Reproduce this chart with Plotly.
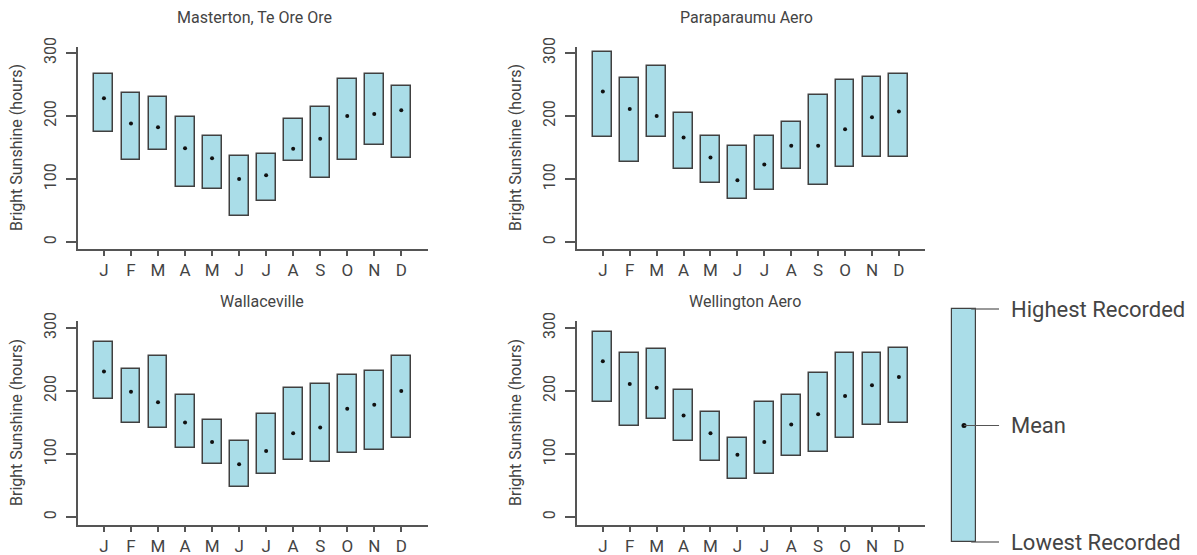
import plotly.graph_objects as go

MONTHS = ["J", "F", "M", "A", "M", "J", "J", "A", "S", "O", "N", "D"]
STATIONS = ["Masterton, Te Ore Ore", "Paraparaumu Aero", "Wallaceville", "Wellington Aero"]

masterton_high = [267, 237, 230, 198, 169, 136, 140, 195, 215, 258, 267, 248]
masterton_low = [174, 130, 146, 87, 84, 42, 65, 129, 102, 130, 154, 133]
masterton_mean = [228, 188, 182, 149, 133, 100, 106, 148, 164, 200, 203, 209]

paraparaumu_high = [302, 260, 280, 204, 169, 152, 168, 190, 234, 257, 262, 266]
paraparaumu_low = [166, 127, 166, 116, 94, 68, 83, 116, 91, 119, 135, 135]
paraparaumu_mean = [239, 211, 200, 166, 134, 98, 123, 153, 153, 179, 198, 207]

wallaceville_high = [277, 235, 255, 194, 154, 121, 163, 204, 211, 226, 231, 256]
wallaceville_low = [188, 150, 142, 110, 84, 47, 68, 91, 87, 101, 107, 126]
wallaceville_mean = [231, 199, 182, 150, 119, 84, 105, 133, 142, 172, 178, 200]

wellington_high = [294, 260, 266, 202, 166, 126, 182, 194, 229, 260, 260, 268]
wellington_low = [183, 145, 156, 120, 89, 61, 69, 97, 104, 126, 146, 149]
wellington_mean = [247, 211, 205, 161, 133, 99, 119, 147, 163, 192, 209, 222]

Y_TICKS = [0, 100, 200, 300]
LEGEND_LABELS = ["Lowest Recorded", "Mean", "Highest Recorded"]
LEGEND_LEVELS = [0, 0.5, 1]

HIGHS = [masterton_high, paraparaumu_high, wallaceville_high, wellington_high]
LOWS = [masterton_low, paraparaumu_low, wallaceville_low, wellington_low]
MEANS = [masterton_mean, paraparaumu_mean, wallaceville_mean, wellington_mean]

W, H = 1197, 555
FONT = "Roboto"
TXT = "#444444"
AX = "#555555"
FILL = "#aadde8"
EDGE = "#404040"

def px_x(a, b):
    return [a / W, b / W]

def px_y(top, bottom):
    return [1 - bottom / H, 1 - top / H]

panel_x = [px_x(78, 427.5), px_x(577, 925), px_x(78, 427.5), px_x(577, 925)]
panel_y = [px_y(47, 249), px_y(47, 249), px_y(321, 525), px_y(321, 525)]
y_ranges = [[-11, 309.5], [-11, 309.5], [-12.5, 311], [-12.5, 311]]
title_pos = [(254, 17), (746, 17), (262, 301), (745, 301)]
ytitle_x = [16, 515]

fig = go.Figure()
xs = list(range(len(MONTHS)))

for i in range(4):
    xa = "x" if i == 0 else f"x{i+1}"
    ya = "y" if i == 0 else f"y{i+1}"
    fig.add_trace(go.Bar(
        x=xs, y=[h - l for h, l in zip(HIGHS[i], LOWS[i])], base=LOWS[i],
        width=0.7, marker=dict(color=FILL, line=dict(color=EDGE, width=1.5)),
        xaxis=xa, yaxis=ya, showlegend=False, hoverinfo="skip"))
    fig.add_trace(go.Scatter(
        x=xs, y=MEANS[i], mode="markers",
        marker=dict(color="#111111", size=4),
        xaxis=xa, yaxis=ya, showlegend=False, hoverinfo="skip"))
    sfx = "" if i == 0 else str(i + 1)
    fig.layout[f"xaxis{sfx}"] = dict(
        domain=panel_x[i], range=[-0.96, 11.97], anchor=ya, automargin=False,
        tickvals=xs, ticktext=MONTHS, showline=True, linecolor=AX, linewidth=1.5,
        ticks="outside", ticklen=5, tickwidth=1.5, tickcolor=AX,
        showgrid=False, zeroline=False, fixedrange=True,
        tickfont=dict(family=FONT, size=17, color=TXT), ticklabelstandoff=0)
    fig.layout[f"yaxis{sfx}"] = dict(
        domain=panel_y[i], range=y_ranges[i], anchor=xa, automargin=False,
        tickvals=Y_TICKS, tickangle=-90, showline=True, linecolor=AX, linewidth=1.5,
        ticks="outside", ticklen=10, tickwidth=1.5, tickcolor=AX,
        showgrid=False, zeroline=False, fixedrange=True,
        tickfont=dict(family=FONT, size=16, color=TXT), ticklabelstandoff=4)
    tx, ty = title_pos[i]
    fig.add_annotation(x=tx / W, y=1 - ty / H, xref="paper", yref="paper",
                       xanchor="center", yanchor="middle",
                       text=STATIONS[i], showarrow=False,
                       font=dict(family=FONT, size=16, color=TXT))
    yc = (panel_y[i][0] + panel_y[i][1]) / 2
    fig.add_annotation(x=ytitle_x[i % 2] / W, y=yc, xref="paper", yref="paper",
                       xanchor="center", yanchor="middle",
                       text="Bright Sunshine (hours)", textangle=-90, showarrow=False,
                       font=dict(family=FONT, size=16, color=TXT))

# legend key in its own hidden axes
lo, mid, hi = LEGEND_LEVELS[0], LEGEND_LEVELS[1], LEGEND_LEVELS[2]
fig.add_trace(go.Bar(x=[0], y=[hi - lo], base=[lo], width=1,
                     marker=dict(color=FILL, line=dict(color=EDGE, width=1.2)),
                     xaxis="x5", yaxis="y5", showlegend=False, hoverinfo="skip"))
fig.add_trace(go.Scatter(x=[0], y=[mid], mode="markers", marker=dict(color="#111111", size=5),
                         xaxis="x5", yaxis="y5", showlegend=False, hoverinfo="skip"))
for lev, x0 in [(hi, 0.3), (mid, 0.0), (lo, 0.3)]:
    fig.add_trace(go.Scatter(x=[x0, 1.46], y=[lev, lev], mode="lines",
                             line=dict(color=AX, width=1.2),
                             xaxis="x5", yaxis="y5", showlegend=False, hoverinfo="skip"))
for lab, lev in zip(LEGEND_LABELS, LEGEND_LEVELS):
    fig.add_annotation(x=1.875, y=lev, xref="x5", yref="y5", text=lab, showarrow=False,
                       xanchor="left", yanchor="middle",
                       font=dict(family=FONT, size=22, color=TXT))
fig.layout["xaxis5"] = dict(domain=px_x(940, 1030), range=[-1, 2.75], visible=False,
                            anchor="y5", fixedrange=True, automargin=False)
fig.layout["yaxis5"] = dict(domain=px_y(300, 551), range=[-9 / 233, 1 + 9 / 233],
                            visible=False, anchor="x5", fixedrange=True, automargin=False)

fig.update_layout(width=W, height=H, margin=dict(l=0, r=0, t=0, b=0, pad=0),
                  paper_bgcolor="white", plot_bgcolor="white",
                  font=dict(family=FONT, color=TXT), bargap=0)
fig.write_html("out.html", config={"displayModeBar": False},
               post_script="document.body.style.margin='0';document.body.style.padding='0';")
